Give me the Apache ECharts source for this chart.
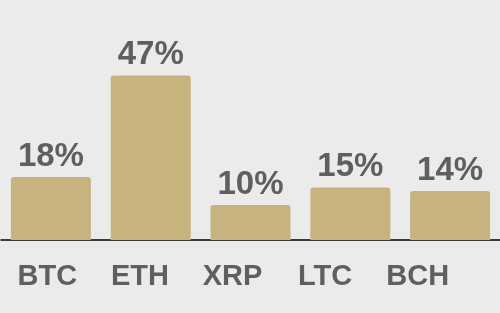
<!DOCTYPE html>
<html><head><meta charset="utf-8">
<script src="https://cdn.jsdelivr.net/npm/echarts@6/dist/echarts.min.js"></script>
<style>html,body{margin:0;padding:0;background:#ebebeb;}#c{width:500px;height:313px;}</style>
</head><body><div id="c"></div>
<script>
var categories = ['BTC', 'ETH', 'XRP', 'LTC', 'BCH'];
var shares = [18, 47, 10, 15, 14];
var valueMax = 50;

var font = '"Liberation Sans", Arial, sans-serif';
var chart = echarts.init(document.getElementById('c'));
chart.setOption({
  backgroundColor: '#ebebeb',
  animation: false,
  grid: [
    {left: 1, right: 0, top: 65, bottom: 73},
    {left: 1, width: 463, top: 65, bottom: 73}
  ],
  xAxis: [
    {type: 'category', data: categories, gridIndex: 0,
     axisLine: {show: true, lineStyle: {color: '#000', width: 1.5}},
     axisTick: {show: false}, axisLabel: {show: false}},
    {type: 'category', data: categories, gridIndex: 1,
     axisLine: {show: false}, axisTick: {show: false},
     axisLabel: {show: true, color: '#5f5f5f', fontSize: 29, fontWeight: 'bold', fontFamily: font, margin: 22}}
  ],
  yAxis: [
    {type: 'value', min: 0, max: valueMax, gridIndex: 0, show: false, splitLine: {show: false}},
    {type: 'value', min: 0, max: valueMax, gridIndex: 1, show: false, splitLine: {show: false}}
  ],
  series: [{
    type: 'bar', xAxisIndex: 0, yAxisIndex: 0,
    data: shares, barWidth: 80,
    itemStyle: {color: '#c6b37e', borderRadius: [3, 3, 0, 0]},
    label: {show: true, position: 'top', distance: 4, formatter: '{c}%',
      color: '#5f5f5f', fontSize: 33, fontWeight: 'bold', fontFamily: font}
  }]
});
</script></body></html>
